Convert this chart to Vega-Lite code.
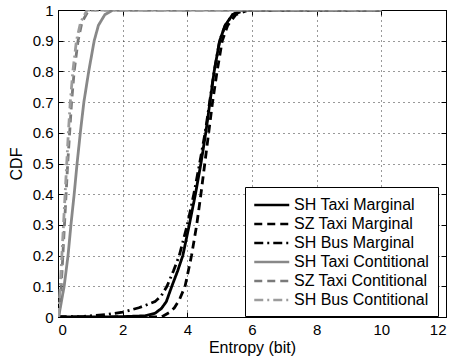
{
  "$schema": "https://vega.github.io/schema/vega-lite/v6.json",
  "width": 388,
  "height": 307,
  "autosize": {"type": "none"},
  "padding": {"left": 58, "top": 10, "right": 10, "bottom": 43},
  "background": "white",
  "config": {
    "view": {"stroke": "black", "strokeWidth": 1},
    "font": "Liberation Sans",
    "axis": {
      "domainColor": "black",
      "tickColor": "black",
      "labelColor": "black",
      "titleColor": "black",
      "labelFontSize": 15,
      "titleFontSize": 16,
      "titleFontWeight": "normal",
      "gridColor": "black",
      "gridDash": [1, 4],
      "gridOpacity": 0.8,
      "tickSize": -5
    }
  },
  "data": {
    "values": [
      {"series": "SH Taxi Marginal", "entropy": 0, "cdf": 0},
      {"series": "SH Taxi Marginal", "entropy": 1, "cdf": 0},
      {"series": "SH Taxi Marginal", "entropy": 2, "cdf": 0.001},
      {"series": "SH Taxi Marginal", "entropy": 2.7, "cdf": 0.004},
      {"series": "SH Taxi Marginal", "entropy": 3, "cdf": 0.012},
      {"series": "SH Taxi Marginal", "entropy": 3.2, "cdf": 0.028},
      {"series": "SH Taxi Marginal", "entropy": 3.35, "cdf": 0.05},
      {"series": "SH Taxi Marginal", "entropy": 3.52, "cdf": 0.1},
      {"series": "SH Taxi Marginal", "entropy": 3.7, "cdf": 0.15},
      {"series": "SH Taxi Marginal", "entropy": 3.86, "cdf": 0.2},
      {"series": "SH Taxi Marginal", "entropy": 4.06, "cdf": 0.3},
      {"series": "SH Taxi Marginal", "entropy": 4.25, "cdf": 0.4},
      {"series": "SH Taxi Marginal", "entropy": 4.42, "cdf": 0.5},
      {"series": "SH Taxi Marginal", "entropy": 4.57, "cdf": 0.6},
      {"series": "SH Taxi Marginal", "entropy": 4.7, "cdf": 0.7},
      {"series": "SH Taxi Marginal", "entropy": 4.83, "cdf": 0.8},
      {"series": "SH Taxi Marginal", "entropy": 5.0, "cdf": 0.9},
      {"series": "SH Taxi Marginal", "entropy": 5.17, "cdf": 0.95},
      {"series": "SH Taxi Marginal", "entropy": 5.4, "cdf": 0.985},
      {"series": "SH Taxi Marginal", "entropy": 5.7, "cdf": 1},
      {"series": "SH Taxi Marginal", "entropy": 10, "cdf": 1},
      {"series": "SZ Taxi Marginal", "entropy": 0, "cdf": 0},
      {"series": "SZ Taxi Marginal", "entropy": 3.2, "cdf": 0},
      {"series": "SZ Taxi Marginal", "entropy": 3.45, "cdf": 0.015},
      {"series": "SZ Taxi Marginal", "entropy": 3.6, "cdf": 0.03},
      {"series": "SZ Taxi Marginal", "entropy": 3.75, "cdf": 0.055},
      {"series": "SZ Taxi Marginal", "entropy": 3.93, "cdf": 0.1},
      {"series": "SZ Taxi Marginal", "entropy": 4.13, "cdf": 0.2},
      {"series": "SZ Taxi Marginal", "entropy": 4.29, "cdf": 0.3},
      {"series": "SZ Taxi Marginal", "entropy": 4.42, "cdf": 0.4},
      {"series": "SZ Taxi Marginal", "entropy": 4.54, "cdf": 0.5},
      {"series": "SZ Taxi Marginal", "entropy": 4.66, "cdf": 0.6},
      {"series": "SZ Taxi Marginal", "entropy": 4.78, "cdf": 0.7},
      {"series": "SZ Taxi Marginal", "entropy": 4.92, "cdf": 0.8},
      {"series": "SZ Taxi Marginal", "entropy": 5.08, "cdf": 0.9},
      {"series": "SZ Taxi Marginal", "entropy": 5.25, "cdf": 0.95},
      {"series": "SZ Taxi Marginal", "entropy": 5.5, "cdf": 0.985},
      {"series": "SZ Taxi Marginal", "entropy": 5.9, "cdf": 1},
      {"series": "SZ Taxi Marginal", "entropy": 10, "cdf": 1},
      {"series": "SH Bus Marginal", "entropy": 0, "cdf": 0},
      {"series": "SH Bus Marginal", "entropy": 0.8, "cdf": 0.002},
      {"series": "SH Bus Marginal", "entropy": 1.5, "cdf": 0.008},
      {"series": "SH Bus Marginal", "entropy": 2, "cdf": 0.016},
      {"series": "SH Bus Marginal", "entropy": 2.5, "cdf": 0.03},
      {"series": "SH Bus Marginal", "entropy": 3, "cdf": 0.05},
      {"series": "SH Bus Marginal", "entropy": 3.2, "cdf": 0.07},
      {"series": "SH Bus Marginal", "entropy": 3.37, "cdf": 0.1},
      {"series": "SH Bus Marginal", "entropy": 3.57, "cdf": 0.15},
      {"series": "SH Bus Marginal", "entropy": 3.75, "cdf": 0.2},
      {"series": "SH Bus Marginal", "entropy": 4.0, "cdf": 0.3},
      {"series": "SH Bus Marginal", "entropy": 4.2, "cdf": 0.4},
      {"series": "SH Bus Marginal", "entropy": 4.38, "cdf": 0.5},
      {"series": "SH Bus Marginal", "entropy": 4.55, "cdf": 0.6},
      {"series": "SH Bus Marginal", "entropy": 4.69, "cdf": 0.7},
      {"series": "SH Bus Marginal", "entropy": 4.83, "cdf": 0.8},
      {"series": "SH Bus Marginal", "entropy": 5.0, "cdf": 0.9},
      {"series": "SH Bus Marginal", "entropy": 5.17, "cdf": 0.95},
      {"series": "SH Bus Marginal", "entropy": 5.4, "cdf": 0.985},
      {"series": "SH Bus Marginal", "entropy": 5.8, "cdf": 1},
      {"series": "SH Bus Marginal", "entropy": 10, "cdf": 1},
      {"series": "SH Taxi Contitional", "entropy": 0.02, "cdf": 0},
      {"series": "SH Taxi Contitional", "entropy": 0.19, "cdf": 0.1},
      {"series": "SH Taxi Contitional", "entropy": 0.31, "cdf": 0.2},
      {"series": "SH Taxi Contitional", "entropy": 0.4, "cdf": 0.3},
      {"series": "SH Taxi Contitional", "entropy": 0.5, "cdf": 0.4},
      {"series": "SH Taxi Contitional", "entropy": 0.59, "cdf": 0.5},
      {"series": "SH Taxi Contitional", "entropy": 0.69, "cdf": 0.6},
      {"series": "SH Taxi Contitional", "entropy": 0.8, "cdf": 0.7},
      {"series": "SH Taxi Contitional", "entropy": 0.95, "cdf": 0.8},
      {"series": "SH Taxi Contitional", "entropy": 1.12, "cdf": 0.9},
      {"series": "SH Taxi Contitional", "entropy": 1.25, "cdf": 0.95},
      {"series": "SH Taxi Contitional", "entropy": 1.45, "cdf": 0.985},
      {"series": "SH Taxi Contitional", "entropy": 1.7, "cdf": 1},
      {"series": "SH Taxi Contitional", "entropy": 10, "cdf": 1},
      {"series": "SZ Taxi Contitional", "entropy": 0.02, "cdf": 0},
      {"series": "SZ Taxi Contitional", "entropy": 0.1, "cdf": 0.1},
      {"series": "SZ Taxi Contitional", "entropy": 0.15, "cdf": 0.2},
      {"series": "SZ Taxi Contitional", "entropy": 0.2, "cdf": 0.3},
      {"series": "SZ Taxi Contitional", "entropy": 0.25, "cdf": 0.4},
      {"series": "SZ Taxi Contitional", "entropy": 0.3, "cdf": 0.5},
      {"series": "SZ Taxi Contitional", "entropy": 0.36, "cdf": 0.6},
      {"series": "SZ Taxi Contitional", "entropy": 0.42, "cdf": 0.7},
      {"series": "SZ Taxi Contitional", "entropy": 0.5, "cdf": 0.8},
      {"series": "SZ Taxi Contitional", "entropy": 0.62, "cdf": 0.9},
      {"series": "SZ Taxi Contitional", "entropy": 0.74, "cdf": 0.96},
      {"series": "SZ Taxi Contitional", "entropy": 0.95, "cdf": 1},
      {"series": "SZ Taxi Contitional", "entropy": 10, "cdf": 1},
      {"series": "SH Bus Contitional", "entropy": 0.01, "cdf": 0},
      {"series": "SH Bus Contitional", "entropy": 0.07, "cdf": 0.1},
      {"series": "SH Bus Contitional", "entropy": 0.12, "cdf": 0.2},
      {"series": "SH Bus Contitional", "entropy": 0.17, "cdf": 0.3},
      {"series": "SH Bus Contitional", "entropy": 0.22, "cdf": 0.4},
      {"series": "SH Bus Contitional", "entropy": 0.27, "cdf": 0.5},
      {"series": "SH Bus Contitional", "entropy": 0.32, "cdf": 0.6},
      {"series": "SH Bus Contitional", "entropy": 0.38, "cdf": 0.7},
      {"series": "SH Bus Contitional", "entropy": 0.46, "cdf": 0.8},
      {"series": "SH Bus Contitional", "entropy": 0.57, "cdf": 0.9},
      {"series": "SH Bus Contitional", "entropy": 0.7, "cdf": 0.96},
      {"series": "SH Bus Contitional", "entropy": 0.9, "cdf": 1},
      {"series": "SH Bus Contitional", "entropy": 10, "cdf": 1}
    ]
  },
  "resolve": {"axis": {"x": "independent", "y": "independent"}},
  "layer": [
    {
      "mark": {"type": "line", "strokeWidth": 2.8, "clip": true},
      "encoding": {
        "x": {
          "field": "entropy", "type": "quantitative",
          "scale": {"domain": [0, 12], "nice": false},
          "axis": {"values": [0, 2, 4, 6, 8, 10, 12], "format": "d", "title": "Entropy (bit)", "grid": true, "labelPadding": 10, "titlePadding": 2}
        },
        "y": {
          "field": "cdf", "type": "quantitative",
          "scale": {"domain": [0, 1], "nice": false},
          "axis": {"values": [0, 0.1, 0.2, 0.3, 0.4, 0.5, 0.6, 0.7, 0.8, 0.9, 1], "format": ".1~f", "title": "CDF", "grid": true, "labelPadding": 10, "titlePadding": 8}
        },
        "color": {
          "field": "series", "type": "nominal",
          "scale": {
            "domain": ["SH Taxi Marginal", "SZ Taxi Marginal", "SH Bus Marginal", "SH Taxi Contitional", "SZ Taxi Contitional", "SH Bus Contitional"],
            "range": ["#000000", "#000000", "#000000", "#888888", "#7a7a7a", "#9c9c9c"]
          },
          "legend": {
            "title": null, "orient": "none", "legendX": 187, "legendY": 177,
            "symbolType": "M-1,0H3", "symbolSize": 306, "symbolStrokeWidth": 2.5,
            "labelFontSize": 16, "labelColor": "black", "labelLimit": 300, "labelOffset": 21,
            "strokeColor": "black", "fillColor": "white", "padding": 8, "rowPadding": 1
          }
        },
        "strokeDash": {
          "field": "series", "type": "nominal",
          "scale": {
            "domain": ["SH Taxi Marginal", "SZ Taxi Marginal", "SH Bus Marginal", "SH Taxi Contitional", "SZ Taxi Contitional", "SH Bus Contitional"],
            "range": [[1, 0], [8, 5], [9, 4, 2, 4], [1, 0], [8, 5], [9, 4, 2, 4]]
          },
          "legend": {
            "title": null, "orient": "none", "legendX": 187, "legendY": 177,
            "symbolType": "M-1,0H3", "symbolSize": 306, "symbolStrokeWidth": 2.5,
            "labelFontSize": 16, "labelColor": "black", "labelLimit": 300, "labelOffset": 21,
            "strokeColor": "black", "fillColor": "white", "padding": 8, "rowPadding": 1
          }
        }
      }
    },
    {
      "mark": {"type": "point", "opacity": 0},
      "encoding": {
        "x": {
          "field": "entropy", "type": "quantitative",
          "scale": {"domain": [0, 12], "nice": false},
          "axis": {"orient": "top", "values": [0, 2, 4, 6, 8, 10, 12], "labels": false, "title": null, "grid": false}
        },
        "y": {
          "field": "cdf", "type": "quantitative",
          "scale": {"domain": [0, 1], "nice": false},
          "axis": {"orient": "right", "values": [0, 0.1, 0.2, 0.3, 0.4, 0.5, 0.6, 0.7, 0.8, 0.9, 1], "labels": false, "title": null, "grid": false}
        }
      }
    }
  ]
}
